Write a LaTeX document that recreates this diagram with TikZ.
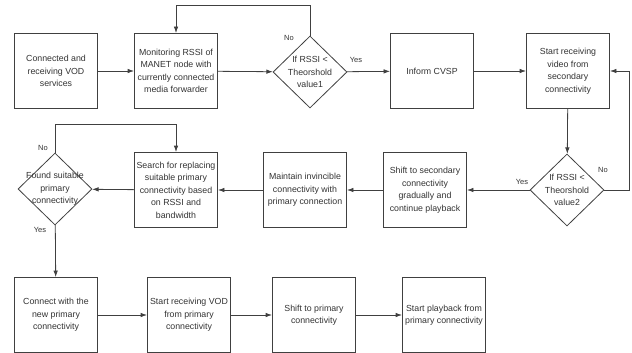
\documentclass[tikz,border=0pt]{standalone}
\usepackage{fontspec}
\setmainfont{Liberation Sans}
\usetikzlibrary{arrows.meta, shapes.geometric}

\begin{document}
\begin{tikzpicture}[x=1pt,y=-1pt,>={Latex[length=6.5pt,width=4.5pt]},
    every node/.append style={font=\fontsize{8.8}{12.5}\selectfont,text=black!80},
    proc/.style={draw=black!75,line width=0.8pt,minimum width=83pt,minimum height=75pt,align=center,inner sep=1pt},
    dec/.style={draw=black!75,line width=0.8pt,diamond,minimum width=74pt,minimum height=72pt,inner sep=0pt},
    txt/.style={align=center,inner sep=0pt},
    lbl/.style={font=\fontsize{7.5}{8}\selectfont,inner sep=1pt},
    line/.style={draw=black!75,line width=0.8pt,->}]
\useasboundingbox (0,0) rectangle (632,353);

% first row
\node (a) [proc] at (56,71) {Connected and\\receiving VOD\\services};
\node (b) [proc] at (176,71) {Monitoring RSSI of\\MANET node with\\currently connected\\media forwarder};
\node (d1) [dec] at (310,72) {};
\node (t1) [txt] at (d1) {If RSSI <\\Theorshold\\value1};
\node (c) [proc] at (432,71) {Inform CVSP};
\node (e) [proc] at (568,71) {Start receiving\\video from\\secondary\\connectivity};

% second row
\node (d2) [dec] at (567,190) {};
\node (t2) [txt] at (d2) {If RSSI <\\Theorshold\\value2};
\node (f) [proc] at (425,190) {Shift to secondary\\connectivity\\gradually and\\continue playback};
\node (g) [proc] at (305,190) {Maintain invincible\\connectivity with\\primary connection};
\node (h) [proc] at (176,190) {Search for replacing\\suitable primary\\connectivity based\\on RSSI and\\bandwidth};
\node (d3) [dec] at (55,189) {};
\node (t3) [txt] at (d3) {Found suitable\\primary\\connectivity};

% third row
\node (i) [proc] at (56,315) {Connect with the\\new primary\\connectivity};
\node (j) [proc] at (189,315) {Start receiving VOD\\from primary\\connectivity};
\node (k) [proc] at (314,315) {Shift to primary\\connectivity};
\node (l) [proc] at (444,315) {Start playback from\\primary connectivity};

\draw[line] (a) -- (b);
\draw[line] (b) -- (d1);
\draw[line] (d1) -- (c);
\draw[line] (d1.north) -- ++(0,-30) -| (b.north);
\draw[line] (c) -- (e);
\draw[line] (e) -- (d2);
\draw[line] (d2.east) -- ++(25,0) |- (e.east);
\draw[line] (d2) -- (f);
\draw[line] (f) -- (g);
\draw[line] (g) -- (h);
\draw[line] (h) -- (d3);
\draw[line] (d3.north) -- ++(0,-28) -| (h.north);
\draw[line] (d3) -- (i);
\draw[line] (i) -- (j);
\draw[line] (j) -- (k);
\draw[line] (k) -- (l);

% yes / no
\node (n1) [lbl] at (289,38) {No};
\node (y1) [lbl] at (356,60) {Yes};
\node (n2) [lbl] at (603,170) {No};
\node (y2) [lbl] at (522,182) {Yes};
\node (n3) [lbl] at (43,148) {No};
\node (y3) [lbl] at (40,230) {Yes};
\end{tikzpicture}
\end{document}
